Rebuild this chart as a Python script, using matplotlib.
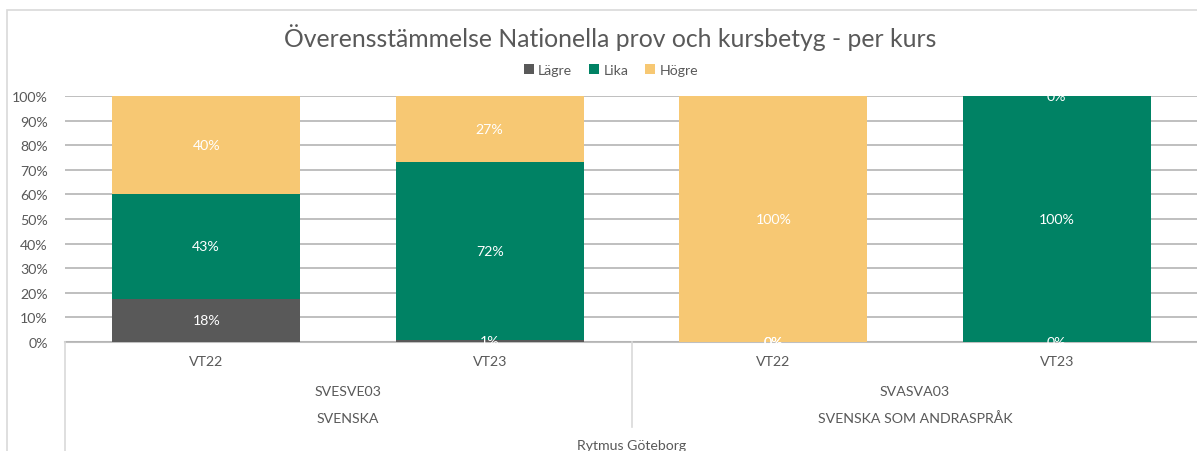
import matplotlib
matplotlib.use("Agg")
import matplotlib.pyplot as plt
import matplotlib.transforms as mtransforms
from matplotlib.lines import Line2D
from matplotlib.patches import Rectangle

plt.rcParams['font.family'] = ['Lato', 'DejaVu Sans']

# Data
terms = ["VT22", "VT23", "VT22", "VT23"]
courses = ["SVESVE03", "SVASVA03"]
subjects = ["SVENSKA", "SVENSKA SOM ANDRASPRÅK"]
school = "Rytmus Göteborg"
series_names = ["Lägre", "Lika", "Högre"]
lagre = [17.6, 0.9, 0.0, 0.0]
lika = [42.6, 72.3, 0.0, 100.0]
hogre = [39.8, 26.8, 100.0, 0.0]
colors = ["#595959", "#008264", "#F7C873"]
title = "Överensstämmelse Nationella prov och kursbetyg - per kurs"

W, H = 1197, 452
fig = plt.figure(figsize=(W / 100, H / 100), dpi=100)
txt = "#595959"
fs = 10.2

def ypix(p):
    return (H - p) / H

# chart border
fig.add_artist(Rectangle((7 / W, -0.1), 2, 1.1 - 11 / H,
                         transform=fig.transFigure, fill=False,
                         edgecolor="#d9d9d9", linewidth=1.2))

ax = fig.add_axes([64.5 / W, (H - 343) / H, (1198.5 - 64.5) / W, (343 - 97) / H])
x = list(range(len(terms)))
bw = 0.663
bottom = [0.0] * len(x)
for name, vals, c in zip(series_names, [lagre, lika, hogre], colors):
    ax.bar(x, vals, bw, bottom=bottom, color=c, label=name, zorder=2)
    for i, v in enumerate(vals):
        ax.text(i, bottom[i] + v / 2, f"{round(v)}%", ha="center", va="center",
                color="white", fontsize=fs, zorder=3)
    bottom = [b + v for b, v in zip(bottom, vals)]

ax.set_xlim(-0.5, len(x) - 0.5)
ax.set_ylim(0, 100)
ax.set_yticks(range(0, 101, 10))
ax.set_yticklabels([f"{t}%" for t in range(0, 101, 10)], color=txt, fontsize=fs)
ax.tick_params(axis="y", length=0, pad=12)
ax.set_xticks([])
ax.grid(axis="y", color="#b4b4b4", linewidth=1.2, zorder=0)
for s in ["top", "right", "left"]:
    ax.spines[s].set_visible(False)
ax.spines["bottom"].set_color("#bfbfbf")
ax.spines["bottom"].set_linewidth(1.5)
ax.spines["bottom"].set_zorder(1)

# multi-level category axis
bt = mtransforms.blended_transform_factory(ax.transData, fig.transFigure)
for i, t in enumerate(terms):
    ax.text(i, ypix(362), t, transform=bt, ha="center", va="center", color=txt, fontsize=fs, clip_on=False)
for j, c in enumerate(courses):
    ax.text(2 * j + 0.5, ypix(392), c, transform=bt, ha="center", va="center", color=txt, fontsize=fs, clip_on=False)
for j, s in enumerate(subjects):
    ax.text(2 * j + 0.5, ypix(419), s, transform=bt, ha="center", va="center", color=txt, fontsize=fs, clip_on=False)
ax.text(1.5, ypix(446), school, transform=bt, ha="center", va="center", color=txt, fontsize=fs, clip_on=False)

ax.add_line(Line2D([-0.5, -0.5], [ypix(343), ypix(460)], transform=bt, color="#d9d9d9", linewidth=1.2, clip_on=False))
ax.add_line(Line2D([1.5, 1.5], [ypix(343), ypix(428)], transform=bt, color="#d9d9d9", linewidth=1.2, clip_on=False))

fig.text(610 / W, ypix(38), title, ha="center", va="center", color=txt, fontsize=17.8)
leg = ax.legend(loc="center", bbox_to_anchor=(611 / W, ypix(71)), bbox_transform=fig.transFigure,
                ncol=3, frameon=False, fontsize=fs, handlelength=0.7, handleheight=0.7,
                handletextpad=0.3, columnspacing=1.2, labelcolor=txt)

fig.savefig("out.png", dpi=100)
